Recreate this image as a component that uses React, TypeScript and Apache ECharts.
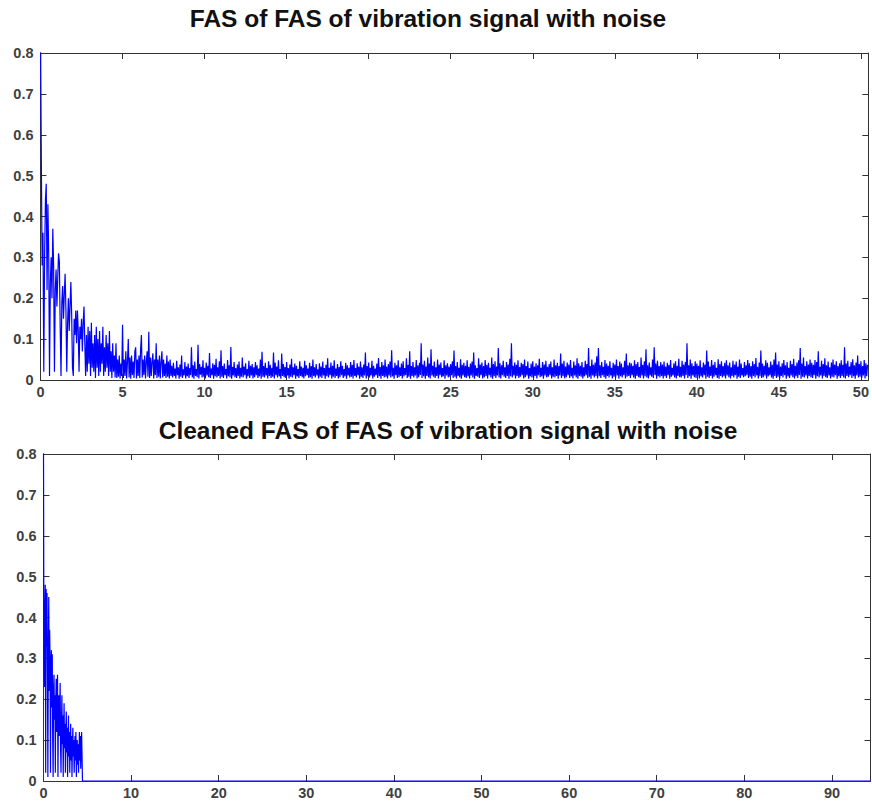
import React, { useEffect, useRef } from "react";
import * as echarts from "echarts";

// Upper panel: decaying head sampled every 0.05 (0 .. 7.95)
const topHeadStep = 0.05;
const topHead = [
  0.86, 0.54, 0.28, 0.36, 0.02, 0.30, 0.44, 0.48,
  0.22, 0.43, 0.31, 0.01, 0.24, 0.30, 0.20, 0.37,
  0.28, 0.02, 0.22, 0.27, 0.18, 0.25, 0.31, 0.29,
  0.13, 0.01, 0.19, 0.23, 0.15, 0.21, 0.26, 0.17,
  0.02, 0.14, 0.20, 0.12, 0.18, 0.24, 0.16, 0.03,
  0.01, 0.15, 0.11, 0.17, 0.09, 0.17, 0.12, 0.02,
  0.13, 0.10, 0.15, 0.07, 0.14, 0.18, 0.09, 0.01,
  0.11, 0.02, 0.13, 0.04, 0.12, 0.01, 0.14, 0.03,
  0.09, 0.02, 0.11, 0.005, 0.13, 0.03, 0.10, 0.01,
  0.12, 0.02, 0.09, 0.04, 0.13, 0.01, 0.08, 0.02,
  0.11, 0.03, 0.09, 0.01, 0.12, 0.02, 0.07, 0.005,
  0.09, 0.02, 0.06, 0.006, 0.09, 0.005, 0.05, 0.008,
  0.06, 0.004, 0.04, 0.01, 0.135, 0.005, 0.05, 0.01,
  0.07, 0.004, 0.045, 0.10, 0.006, 0.055, 0.003, 0.06,
  0.012, 0.045, 0.005, 0.07, 0.08, 0.004, 0.05, 0.01,
  0.06, 0.005, 0.075, 0.11, 0.006, 0.05, 0.012, 0.06,
  0.004, 0.045, 0.07, 0.008, 0.118, 0.005, 0.055, 0.01,
  0.045, 0.065, 0.004, 0.05, 0.012, 0.09, 0.005, 0.05,
  0.008, 0.06, 0.004, 0.045, 0.07, 0.006, 0.05, 0.01,
  0.04, 0.005, 0.06, 0.008, 0.045, 0.004, 0.05, 0.01,
];

// Upper panel: noise floor sampled every 0.05 (8.0 .. 50.4), one row per unit
const topNoiseStart = 8;
const topNoiseStep = 0.05;
const topNoise = [
  0.035, 0.006, 0.042, 0.010, 0.028, 0.004, 0.047, 0.012, 0.031, 0.003, 0.038, 0.008, 0.060, 0.005, 0.026, 0.011, 0.044, 0.004, 0.033, 0.009,
  0.040, 0.005, 0.029, 0.012, 0.080, 0.006, 0.036, 0.003, 0.045, 0.010, 0.027, 0.007, 0.086, 0.004, 0.039, 0.013, 0.032, 0.006, 0.048, 0.008,
  0.030, 0.004, 0.043, 0.011, 0.035, 0.007, 0.066, 0.005, 0.028, 0.012, 0.041, 0.003, 0.037, 0.009, 0.052, 0.006, 0.031, 0.010, 0.046, 0.004,
  0.073, 0.008, 0.034, 0.005, 0.040, 0.012, 0.027, 0.004, 0.049, 0.009, 0.036, 0.006, 0.081, 0.003, 0.032, 0.011, 0.044, 0.007, 0.029, 0.005,
  0.038, 0.010, 0.045, 0.004, 0.030, 0.008, 0.055, 0.006, 0.033, 0.012, 0.041, 0.003, 0.027, 0.009, 0.047, 0.005, 0.035, 0.011, 0.039, 0.004,
  0.031, 0.007, 0.044, 0.012, 0.036, 0.005, 0.028, 0.009, 0.050, 0.003, 0.069, 0.008, 0.034, 0.006, 0.042, 0.011, 0.029, 0.004, 0.046, 0.010,
  0.037, 0.005, 0.030, 0.008, 0.067, 0.004, 0.043, 0.012, 0.033, 0.006, 0.048, 0.009, 0.027, 0.003, 0.065, 0.010, 0.039, 0.007, 0.032, 0.005,
  0.044, 0.011, 0.029, 0.004, 0.038, 0.008, 0.052, 0.006, 0.031, 0.012, 0.040, 0.003, 0.035, 0.009, 0.027, 0.005, 0.046, 0.010, 0.033, 0.007,
  0.030, 0.004, 0.047, 0.009, 0.036, 0.012, 0.028, 0.005, 0.042, 0.007, 0.034, 0.003, 0.050, 0.010, 0.031, 0.006, 0.039, 0.011, 0.026, 0.004,
  0.041, 0.008, 0.033, 0.005, 0.045, 0.011, 0.029, 0.003, 0.037, 0.009, 0.053, 0.006, 0.030, 0.012, 0.043, 0.004, 0.035, 0.008, 0.048, 0.005,
  0.028, 0.010, 0.039, 0.004, 0.032, 0.007, 0.046, 0.012, 0.035, 0.005, 0.027, 0.009, 0.042, 0.003, 0.036, 0.011, 0.030, 0.006, 0.044, 0.008,
  0.037, 0.004, 0.049, 0.010, 0.029, 0.006, 0.041, 0.012, 0.033, 0.003, 0.045, 0.008, 0.031, 0.005, 0.038, 0.011, 0.067, 0.004, 0.034, 0.009,
  0.043, 0.006, 0.030, 0.011, 0.047, 0.004, 0.035, 0.008, 0.028, 0.012, 0.040, 0.005, 0.054, 0.009, 0.032, 0.003, 0.044, 0.010, 0.036, 0.006,
  0.050, 0.008, 0.033, 0.004, 0.039, 0.011, 0.045, 0.006, 0.073, 0.009, 0.030, 0.003, 0.042, 0.012, 0.036, 0.005, 0.048, 0.007, 0.031, 0.010,
  0.040, 0.004, 0.046, 0.009, 0.029, 0.012, 0.053, 0.005, 0.037, 0.008, 0.070, 0.003, 0.034, 0.010, 0.044, 0.006, 0.031, 0.011, 0.049, 0.004,
  0.036, 0.007, 0.042, 0.012, 0.090, 0.005, 0.038, 0.009, 0.047, 0.003, 0.033, 0.010, 0.055, 0.006, 0.040, 0.004, 0.075, 0.011, 0.035, 0.008,
  0.045, 0.005, 0.031, 0.010, 0.050, 0.004, 0.038, 0.012, 0.043, 0.007, 0.029, 0.009, 0.048, 0.003, 0.036, 0.011, 0.041, 0.006, 0.033, 0.008,
  0.039, 0.012, 0.046, 0.005, 0.072, 0.008, 0.034, 0.004, 0.044, 0.010, 0.030, 0.006, 0.051, 0.003, 0.037, 0.011, 0.042, 0.007, 0.035, 0.005,
  0.048, 0.009, 0.032, 0.004, 0.040, 0.011, 0.045, 0.006, 0.067, 0.003, 0.036, 0.010, 0.029, 0.008, 0.053, 0.005, 0.038, 0.012, 0.043, 0.004,
  0.034, 0.007, 0.049, 0.010, 0.037, 0.004, 0.042, 0.012, 0.030, 0.006, 0.055, 0.003, 0.039, 0.009, 0.046, 0.005, 0.033, 0.011, 0.078, 0.006,
  0.041, 0.004, 0.036, 0.012, 0.047, 0.008, 0.031, 0.005, 0.044, 0.010, 0.038, 0.003, 0.052, 0.009, 0.090, 0.006, 0.035, 0.011, 0.043, 0.004,
  0.037, 0.010, 0.048, 0.005, 0.032, 0.008, 0.042, 0.012, 0.039, 0.004, 0.050, 0.007, 0.034, 0.011, 0.045, 0.003, 0.029, 0.009, 0.040, 0.006,
  0.046, 0.005, 0.033, 0.010, 0.041, 0.004, 0.036, 0.012, 0.052, 0.007, 0.030, 0.009, 0.044, 0.003, 0.038, 0.011, 0.047, 0.006, 0.032, 0.008,
  0.039, 0.012, 0.045, 0.004, 0.031, 0.008, 0.050, 0.006, 0.036, 0.010, 0.042, 0.003, 0.034, 0.011, 0.065, 0.005, 0.040, 0.009, 0.047, 0.004,
  0.033, 0.007, 0.043, 0.012, 0.038, 0.005, 0.049, 0.009, 0.030, 0.004, 0.045, 0.011, 0.036, 0.006, 0.053, 0.003, 0.041, 0.010, 0.035, 0.008,
  0.044, 0.004, 0.031, 0.009, 0.047, 0.012, 0.039, 0.005, 0.078, 0.008, 0.034, 0.003, 0.050, 0.011, 0.037, 0.006, 0.043, 0.010, 0.058, 0.004,
  0.078, 0.009, 0.036, 0.005, 0.044, 0.012, 0.032, 0.007, 0.049, 0.003, 0.040, 0.010, 0.035, 0.006, 0.046, 0.011, 0.030, 0.004, 0.042, 0.008,
  0.038, 0.005, 0.050, 0.011, 0.034, 0.003, 0.045, 0.009, 0.040, 0.006, 0.031, 0.012, 0.047, 0.004, 0.065, 0.008, 0.036, 0.010, 0.043, 0.005,
  0.041, 0.012, 0.035, 0.006, 0.048, 0.003, 0.039, 0.010, 0.044, 0.007, 0.032, 0.005, 0.055, 0.011, 0.037, 0.004, 0.046, 0.009, 0.075, 0.006,
  0.036, 0.004, 0.043, 0.011, 0.031, 0.008, 0.050, 0.005, 0.080, 0.012, 0.040, 0.003, 0.047, 0.009, 0.034, 0.006, 0.044, 0.010, 0.038, 0.004,
  0.045, 0.009, 0.033, 0.005, 0.042, 0.012, 0.037, 0.003, 0.049, 0.008, 0.030, 0.011, 0.041, 0.006, 0.046, 0.004, 0.035, 0.010, 0.052, 0.007,
  0.032, 0.006, 0.047, 0.010, 0.038, 0.004, 0.044, 0.012, 0.090, 0.005, 0.036, 0.009, 0.050, 0.003, 0.041, 0.011, 0.034, 0.007, 0.046, 0.005,
  0.040, 0.011, 0.035, 0.004, 0.048, 0.009, 0.031, 0.006, 0.043, 0.012, 0.038, 0.003, 0.072, 0.008, 0.045, 0.005, 0.033, 0.010, 0.049, 0.004,
  0.037, 0.008, 0.044, 0.012, 0.030, 0.005, 0.051, 0.003, 0.039, 0.010, 0.046, 0.006, 0.034, 0.009, 0.042, 0.004, 0.048, 0.011, 0.036, 0.007,
  0.043, 0.004, 0.031, 0.010, 0.047, 0.006, 0.038, 0.012, 0.045, 0.003, 0.033, 0.008, 0.050, 0.005, 0.040, 0.011, 0.029, 0.007, 0.044, 0.009,
  0.036, 0.012, 0.049, 0.005, 0.041, 0.008, 0.034, 0.003, 0.046, 0.010, 0.039, 0.006, 0.054, 0.011, 0.032, 0.004, 0.043, 0.009, 0.072, 0.005,
  0.040, 0.007, 0.035, 0.011, 0.048, 0.004, 0.042, 0.009, 0.031, 0.012, 0.045, 0.006, 0.037, 0.003, 0.050, 0.010, 0.067, 0.005, 0.038, 0.008,
  0.046, 0.004, 0.033, 0.010, 0.041, 0.006, 0.049, 0.012, 0.036, 0.003, 0.044, 0.009, 0.030, 0.005, 0.047, 0.011, 0.039, 0.007, 0.052, 0.004,
  0.035, 0.009, 0.043, 0.005, 0.048, 0.012, 0.078, 0.003, 0.040, 0.008, 0.055, 0.006, 0.034, 0.011, 0.046, 0.004, 0.038, 0.010, 0.050, 0.007,
  0.042, 0.005, 0.037, 0.012, 0.049, 0.003, 0.044, 0.009, 0.070, 0.006, 0.032, 0.011, 0.047, 0.004, 0.039, 0.010, 0.053, 0.007, 0.036, 0.005,
  0.045, 0.011, 0.031, 0.004, 0.043, 0.008, 0.050, 0.006, 0.038, 0.012, 0.046, 0.003, 0.034, 0.009, 0.041, 0.005, 0.048, 0.010, 0.037, 0.006,
  0.080, 0.004, 0.040, 0.010, 0.047, 0.007, 0.033, 0.012, 0.044, 0.005, 0.051, 0.009, 0.036, 0.003, 0.043, 0.011, 0.060, 0.006, 0.039, 0.008,
  0.046, 0.005, 0.034, 0.011, 0.049, 0.004, 0.041, 0.009, 0.037,
];

// Lower panel: cleaned spectrum, non-zero part sampled every 0.05, then flat zero
const cleanedStep = 0.05;
const cleanedHead = [
  0.82, 0.30, 0.23, 0.40, 0.48, 0.02, 0.47, 0.33,
  0.46, 0.25, 0.01, 0.31, 0.45, 0.22, 0.37, 0.30,
  0.02, 0.26, 0.32, 0.18, 0.31, 0.10, 0.01, 0.23,
  0.26, 0.15, 0.21, 0.02, 0.19, 0.25, 0.12, 0.20,
  0.26, 0.01, 0.16, 0.21, 0.11, 0.17, 0.24, 0.08,
  0.02, 0.14, 0.21, 0.09, 0.16, 0.01, 0.13, 0.19,
  0.08, 0.14, 0.02, 0.12, 0.17, 0.07, 0.13, 0.01,
  0.10, 0.16, 0.06, 0.12, 0.02, 0.09, 0.14, 0.05,
  0.11, 0.01, 0.08, 0.13, 0.06, 0.10, 0.02, 0.07,
  0.11, 0.05, 0.12, 0.01, 0.08, 0.10, 0.04, 0.09,
  0.02, 0.07, 0.12, 0.05, 0.11, 0.03, 0.08, 0.12,
  0.06, 0.00,
];
const cleanedEndX = 94.4;

const topXMax = 50.45;
const yMax = 0.8;

const round = (v: number) => Math.round(v * 1000) / 1000;

const BLUE = "#0000ff";
const AXIS = "#333333";
const LABEL = "#404040";
const FONT = "Liberation Sans, Arial, sans-serif";

function makeAxes(gridIndex: number, xMax: number, xInterval: number) {
  const line = { show: true, lineStyle: { color: AXIS, width: 1 } };
  const tick = { show: true, inside: true, length: 6, lineStyle: { color: AXIS } };
  const label = {
    color: LABEL,
    fontFamily: FONT,
    fontSize: 14.5,
    fontWeight: "bold" as const,
  };
  const xBase = {
    type: "value" as const,
    gridIndex,
    min: 0,
    max: xMax,
    interval: xInterval,
    splitLine: { show: false },
    axisLine: { ...line, onZero: false },
    axisTick: tick,
  };
  const yBase = {
    type: "value" as const,
    gridIndex,
    min: 0,
    max: yMax,
    interval: 0.1,
    splitLine: { show: false },
    axisLine: { ...line, onZero: false },
    axisTick: tick,
  };
  return {
    x: [
      { ...xBase, position: "bottom" as const, axisLabel: { ...label, margin: 4, showMaxLabel: false } },
      { ...xBase, position: "top" as const, axisLabel: { show: false } },
    ],
    y: [
      { ...yBase, position: "left" as const, axisLabel: { ...label, margin: 7 } },
      { ...yBase, position: "right" as const, axisLabel: { show: false } },
    ],
  };
}

export default function App() {
  const ref = useRef<HTMLDivElement>(null);

  useEffect(() => {
    if (!ref.current) return;
    const chart = echarts.init(ref.current, undefined, { renderer: "svg" });

    const topData: number[][] = [
      ...topHead.map((v, i) => [round(i * topHeadStep), v]),
      ...topNoise.map((v, i) => [round(topNoiseStart + i * topNoiseStep), v]),
    ];
    const cleanedData: number[][] = [
      ...cleanedHead.map((v, i) => [round(i * cleanedStep), v]),
      [cleanedEndX, 0],
    ];

    const a0 = makeAxes(0, topXMax, 5);
    const a1 = makeAxes(1, cleanedEndX, 10);

    const titleStyle = {
      textAlign: "center",
      textVerticalAlign: "middle",
      fontFamily: FONT,
      fontSize: 24.5,
      fontWeight: "bold",
      fill: "#111111",
    };

    chart.setOption({
      animation: false,
      backgroundColor: "#ffffff",
      grid: [
        { left: 40.5, top: 53, width: 832.5, height: 327 },
        { left: 43.5, top: 454, width: 827, height: 327 },
      ],
      xAxis: [...a0.x, ...a1.x],
      yAxis: [...a0.y, ...a1.y],
      graphic: [
        {
          type: "text",
          x: 428,
          y: 18,
          style: { ...titleStyle, text: "FAS of FAS of vibration signal with noise" },
        },
        {
          type: "text",
          x: 448,
          y: 430,
          style: { ...titleStyle, text: "Cleaned FAS of FAS of vibration signal with noise" },
        },
      ],
      series: [
        {
          type: "line",
          xAxisIndex: 0,
          yAxisIndex: 0,
          data: topData,
          showSymbol: false,
          clip: true,
          lineStyle: { color: BLUE, width: 1.2 },
          silent: true,
        },
        {
          type: "line",
          xAxisIndex: 2,
          yAxisIndex: 2,
          data: cleanedData,
          showSymbol: false,
          clip: true,
          lineStyle: { color: BLUE, width: 1.2 },
          silent: true,
        },
      ],
    });

    return () => chart.dispose();
  }, []);

  return (
    <div
      ref={ref}
      style={{ position: "absolute", left: 0, top: 0, width: 872, height: 805, background: "#fff" }}
    />
  );
}
